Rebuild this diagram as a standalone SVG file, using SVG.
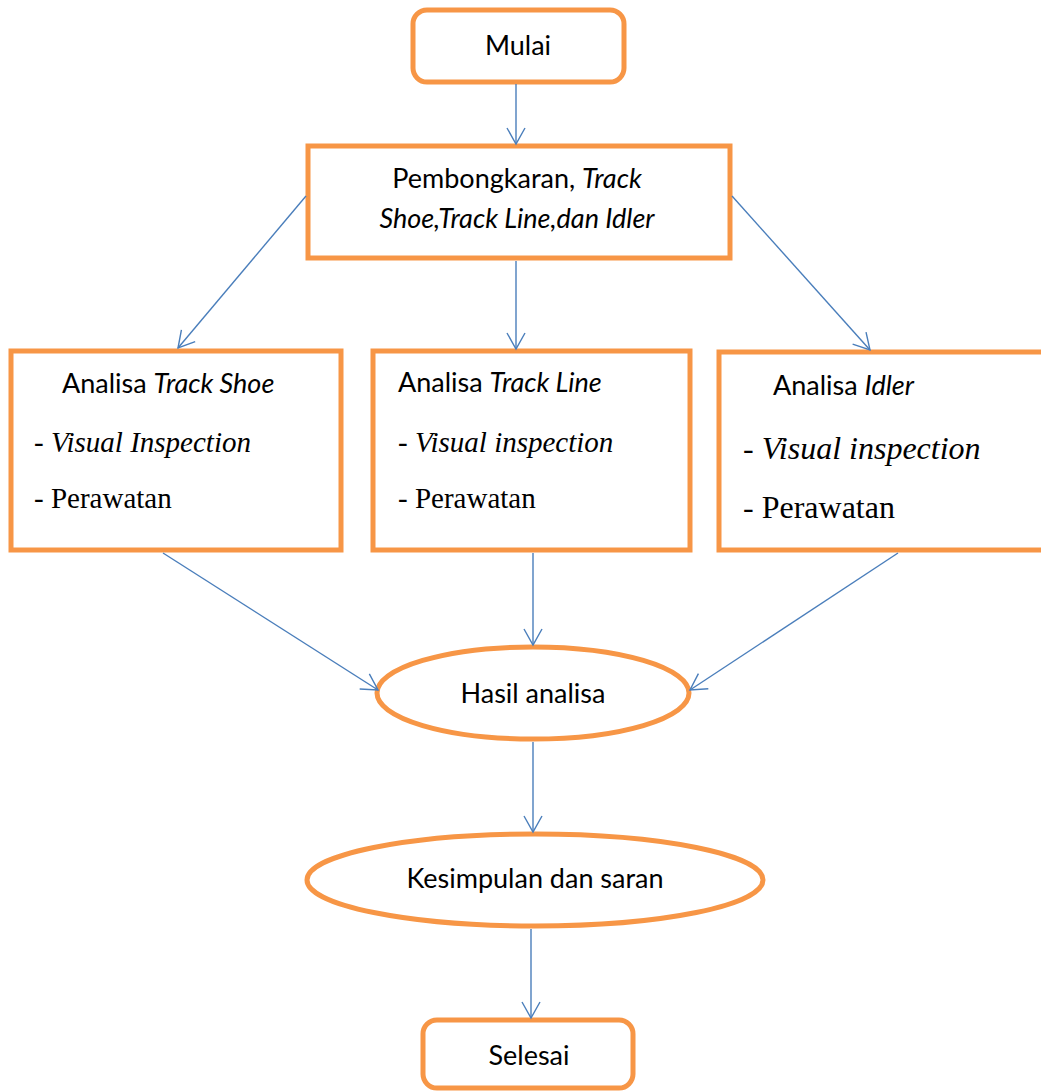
<svg xmlns="http://www.w3.org/2000/svg" width="1041" height="1091" viewBox="0 0 1041 1091">
<style>
.n{fill:#fff;stroke:#F79646;stroke-width:5}
.c{stroke:#4A7EBB;stroke-width:1.4;fill:none}
.s{font-family:Lato,"Open Sans",sans-serif;font-size:27px;fill:#000}
.t{font-family:"Liberation Serif",serif;font-size:29px;fill:#000}
.i{font-style:italic}
</style>
<defs>
<marker id="a" viewBox="0 0 20 20" refX="18" refY="10" markerWidth="20" markerHeight="20" markerUnits="userSpaceOnUse" orient="auto">
<path d="M2,1 L18,10 L2,19" fill="none" stroke="#4A7EBB" stroke-width="1.4"/>
</marker>
</defs>
<rect width="1041" height="1091" fill="#fff"/>
<g id="mulai">
<rect class="n" x="413" y="10" width="211" height="72" rx="14"/>
<text class="s" x="518" y="55" text-anchor="middle">Mulai</text>
</g>
<g id="pembongkaran">
<rect class="n" x="308" y="146" width="422" height="112"/>
<text class="s" x="517" y="188" text-anchor="middle">Pembongkaran, <tspan class="i">Track</tspan></text>
<text class="s i" x="517" y="228" text-anchor="middle">Shoe,Track Line,dan Idler</text>
</g>
<g id="track-shoe">
<rect class="n" x="11" y="351" width="330" height="199"/>
<text class="s" x="62" y="393">Analisa <tspan class="i">Track Shoe</tspan></text>
<text class="t" x="34" y="452">- <tspan class="i">Visual Inspection</tspan></text>
<text class="t" x="34" y="508">- Perawatan</text>
</g>
<g id="track-line">
<rect class="n" x="373" y="351" width="317" height="199"/>
<text class="s" x="398" y="392">Analisa <tspan class="i">Track Line</tspan></text>
<text class="t" x="398" y="452">- <tspan class="i">Visual inspection</tspan></text>
<text class="t" x="398" y="508">- Perawatan</text>
</g>
<g id="idler">
<rect class="n" x="719" y="352" width="340" height="198"/>
<text class="s" x="773" y="395">Analisa <tspan class="i">Idler</tspan></text>
<text class="t" x="743" y="459" style="font-size:32px">- <tspan class="i">Visual inspection</tspan></text>
<text class="t" x="743" y="518" style="font-size:32px">- Perawatan</text>
</g>
<g id="hasil">
<ellipse class="n" cx="533" cy="693" rx="156" ry="46"/>
<text class="s" x="533" y="703" text-anchor="middle">Hasil analisa</text>
</g>
<g id="kesimpulan">
<ellipse class="n" cx="535" cy="880" rx="228" ry="46"/>
<text class="s" x="535" y="888" text-anchor="middle">Kesimpulan dan saran</text>
</g>
<g id="selesai">
<rect class="n" x="423" y="1020" width="210" height="68" rx="14"/>
<text class="s" x="529" y="1065" text-anchor="middle">Selesai</text>
</g>
<g id="connectors">
<line class="c" x1="516" y1="84" x2="516" y2="144" marker-end="url(#a)"/>
<line class="c" x1="306" y1="196" x2="178" y2="348" marker-end="url(#a)"/>
<line class="c" x1="516" y1="261" x2="516" y2="349" marker-end="url(#a)"/>
<line class="c" x1="732" y1="196" x2="870" y2="350" marker-end="url(#a)"/>
<line class="c" x1="163" y1="553" x2="378" y2="690" marker-end="url(#a)"/>
<line class="c" x1="533" y1="553" x2="533" y2="645" marker-end="url(#a)"/>
<line class="c" x1="898" y1="553" x2="690" y2="690" marker-end="url(#a)"/>
<line class="c" x1="533" y1="742" x2="533" y2="832" marker-end="url(#a)"/>
<line class="c" x1="531" y1="929" x2="531" y2="1018" marker-end="url(#a)"/>
</g>
</svg>
